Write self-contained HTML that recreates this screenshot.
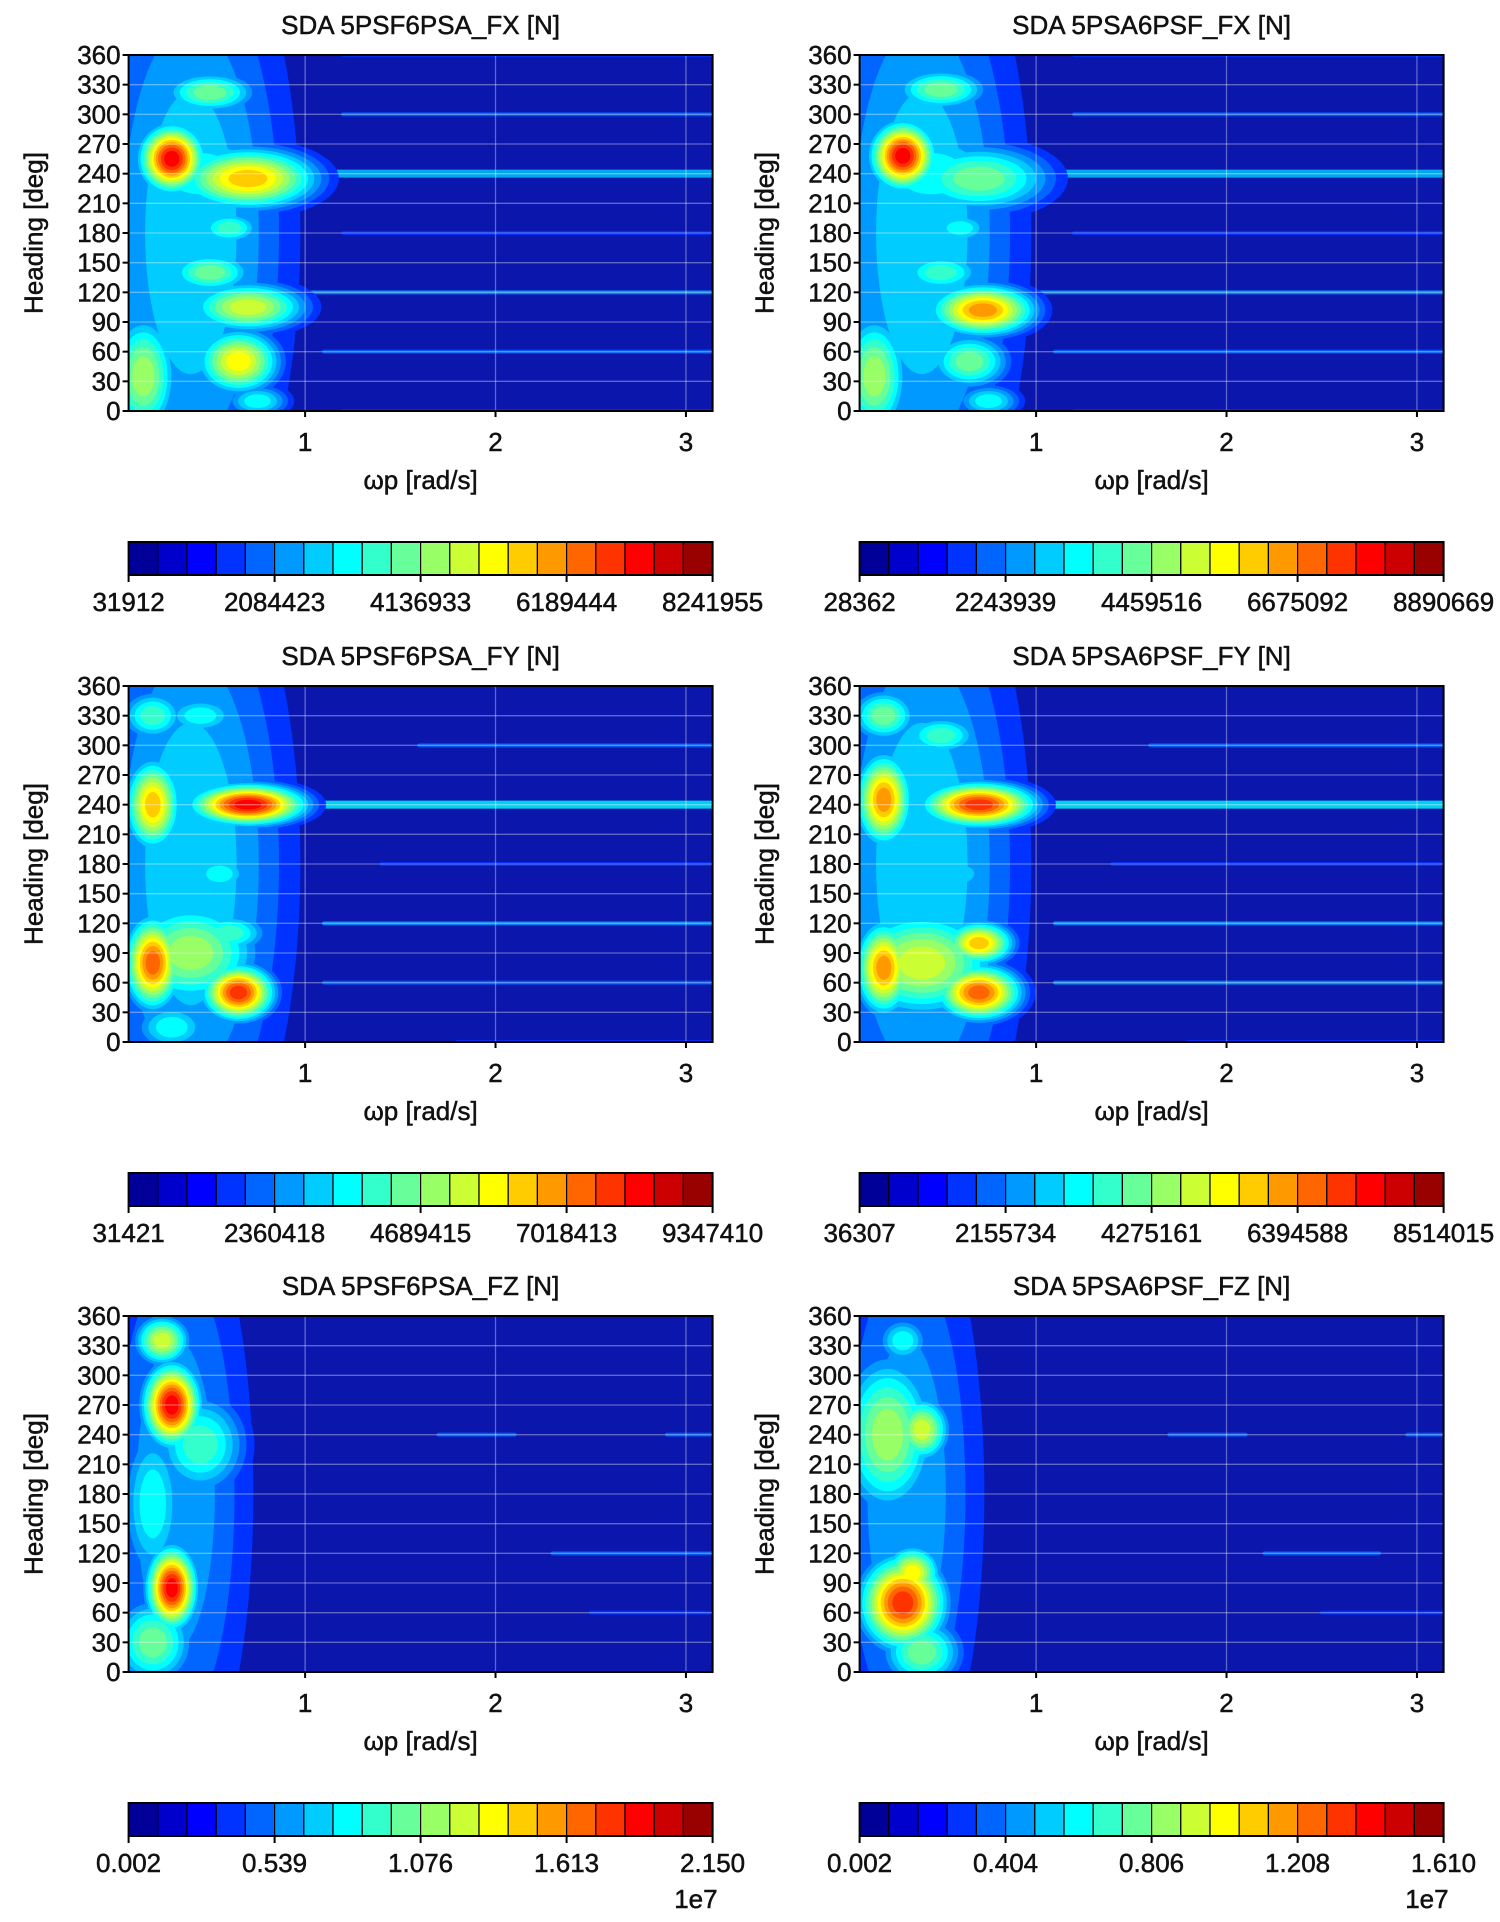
<!DOCTYPE html>
<html><head><meta charset="utf-8">
<style>
html,body{margin:0;padding:0;background:#fff;}
svg{display:block;font-family:"Liberation Sans",sans-serif;}
svg text{stroke:#111;stroke-width:0.5px;}
</style></head>
<body>
<svg id="fig" width="1500" height="1922" viewBox="0 0 1500 1922" xmlns="http://www.w3.org/2000/svg">
<rect width="1500" height="1922" fill="#fff"/>
</svg>
<script>
// ---- data ----
const titles = ["SDA 5PSF6PSA_FX [N]","SDA 5PSA6PSF_FX [N]","SDA 5PSF6PSA_FY [N]","SDA 5PSA6PSF_FY [N]","SDA 5PSF6PSA_FZ [N]","SDA 5PSA6PSF_FZ [N]"];
const xTicks = [1,2,3];
const yTicks = [0,30,60,90,120,150,180,210,240,270,300,330,360];
const cbLabels = [
 ["31912","2084423","4136933","6189444","8241955"],
 ["28362","2243939","4459516","6675092","8890669"],
 ["31421","2360418","4689415","7018413","9347410"],
 ["36307","2155734","4275161","6394588","8514015"],
 ["0.002","0.539","1.076","1.613","2.150"],
 ["0.002","0.404","0.806","1.208","1.610"]];
const cbExponent = ["","","","","1e7","1e7"];
// peaks per panel: omega [rad/s], heading [deg], level (0-19), spread omega, spread heading
const peakOmega = [
 [0.4,0.3,0.7,0.5,0.7,0.5,0.6,0.65,0.15,0.75,0.45],
 [0.4,0.3,0.7,0.5,0.72,0.5,0.6,0.65,0.15,0.75,0.45],
 [0.4,0.2,0.7,0.2,0.65,0.4,0.6,0.2,0.45,0.55,0.3],
 [0.4,0.2,0.7,0.2,0.7,0.7,0.4,0.2,0.5,0.6],
 [0.32,0.3,0.3,0.25,0.45,0.2,0.2],
 [0.32,0.3,0.35,0.22,0.4,0.3,0.4]];
const peakHeading = [
 [180,255,235,322,105,140,185,50,35,10,240],
 [180,258,235,325,102,140,185,50,35,10,240],
 [180,240,240,80,50,90,110,330,330,170,15],
 [180,245,240,75,50,100,80,330,310,170],
 [180,270,85,335,230,170,30],
 [180,70,100,240,245,335,20]];
const peakLevel = [
 [6,17,13,9,11,9,8,12,10,7,7],
 [6,17,9,9,14,8,7,9,10,7,7],
 [6,13,17,15,16,10,8,8,7,7,7],
 [6,14,16,14,15,13,11,9,8,6],
 [5,17,17,11,8,7,9],
 [5,16,12,10,11,7,9]];
const peakSpreadOmega = [
 [0.32,0.09,0.2,0.14,0.17,0.13,0.1,0.12,0.1,0.1,0.25],
 [0.32,0.09,0.22,0.14,0.15,0.13,0.1,0.12,0.1,0.1,0.25],
 [0.32,0.08,0.16,0.08,0.1,0.2,0.12,0.1,0.12,0.1,0.12],
 [0.32,0.08,0.16,0.08,0.12,0.1,0.22,0.1,0.12,0.1],
 [0.25,0.08,0.07,0.08,0.14,0.1,0.12],
 [0.25,0.12,0.08,0.14,0.08,0.08,0.12]];
const peakSpreadHeading = [
 [190,18,17,12,14,12,10,18,35,10,30],
 [190,18,20,12,14,12,10,16,35,10,30],
 [190,25,11,25,15,30,12,15,12,12,15],
 [190,25,12,25,15,12,30,15,12,12],
 [190,22,22,14,30,50,25],
 [190,25,15,45,18,14,20]];
// ridge lines along heading
const ridgeHeading = [
 [240,120,60,300,180,0,360],[240,120,60,300,180,0,360],
 [240,120,60,300,180,0],[240,120,60,300,180,0],
 [240,240,120,60],[240,240,120,60]];
const ridgeStart = [
 [0.9,0.9,1.1,1.2,1.2,1.2,1.2],[0.9,0.9,1.1,1.2,1.2,1.2,1.2],
 [0.9,1.1,1.1,1.6,1.4,1.8],[0.9,1.1,1.1,1.6,1.4,1.8],
 [1.7,2.9,2.3,2.5],[1.7,2.95,2.2,2.5]];
const ridgeEnd = [
 [3.14,3.14,3.14,3.14,3.14,3.14,3.14],[3.14,3.14,3.14,3.14,3.14,3.14,3.14],
 [3.14,3.14,3.14,3.14,3.14,3.14],[3.14,3.14,3.14,3.14,3.14,3.14],
 [2.1,3.14,3.14,3.14],[2.1,3.14,2.8,3.14]];
const ridgeLevel = [
 [6,5,4,4,3,3,3],[6,5,4,4,3,3,3],
 [7,5,4,4,3,3],[7,5,5,4,3,3],
 [4,4,4,3],[4,4,4,3]];

// ---- layout ----
const NS="http://www.w3.org/2000/svg";
const svg=document.getElementById('fig');
const colX=[128.6,859.6], rowY=[55,686,1316], PW=584, PH=356;
const XMIN=0.073, XMAX=3.14, SPREAD=1.3;
function mk(tag,attrs,parent){const e=document.createElementNS(NS,tag);for(const k in attrs)e.setAttribute(k,attrs[k]);(parent||svg).appendChild(e);return e;}
function jet(i){const t=(i+0.5)/20;const c=v=>Math.round(255*Math.max(0,Math.min(1,v)));
 return `rgb(${c(1.5-Math.abs(4*t-3))},${c(1.5-Math.abs(4*t-2))},${c(1.5-Math.abs(4*t-1))})`;}

for(let p=0;p<6;p++){
 const x0=colX[p%2], y0=rowY[Math.floor(p/2)];
 const sx=w=>x0+(w-XMIN)/(XMAX-XMIN)*PW;
 const sy=h=>y0+PH-h/360*PH;
 const g=mk('g',{});
 
 
 const t=mk('text',{x:x0+PW/2,y:y0-21,'text-anchor':'middle','font-size':26,fill:'#111'},g);
 t.textContent=titles[p];
 
 
 mk('clipPath',{id:'c'+p},g).appendChild(mk('rect',{x:x0,y:y0,width:PW,height:PH},g));
 const area=mk('g',{'clip-path':`url(#c${p})`},g);
 const bg=mk('rect',{x:x0,y:y0,width:PW,height:PH,fill:'rgb(10,22,172)'},area);
 
 
 for(let r=0;r<ridgeHeading[p].length;r++){
  const ln=mk('line',{x1:sx(ridgeStart[p][r]),x2:sx(ridgeEnd[p][r]),y1:sy(ridgeHeading[p][r]),y2:sy(ridgeHeading[p][r]),stroke:jet(ridgeLevel[p][r]),'stroke-opacity':0.8,'stroke-width':ridgeLevel[p][r]>5?8:4,'stroke-linecap':'round'},area);
  
  
 }
 const shapes=[];
 for(let k=0;k<peakOmega[p].length;k++){
  const L=peakLevel[p][k];
  for(let lev=3;lev<=L;lev++){
   const r=SPREAD*Math.sqrt(2*Math.log((L+0.5)/(lev-0.5)));
   shapes.push({lev,cx:sx(peakOmega[p][k]),cy:sy(peakHeading[p][k]),rx:r*peakSpreadOmega[p][k]/(XMAX-XMIN)*PW,ry:r*peakSpreadHeading[p][k]/360*PH});
  }
 }
 shapes.sort((a,b)=>a.lev-b.lev);
 for(const s of shapes){
  const e=mk('ellipse',{cx:s.cx,cy:s.cy,rx:s.rx,ry:s.ry,fill:jet(s.lev)},area);
  
  
 }
 for(const h of yTicks){mk('line',{x1:x0,x2:x0+PW,y1:sy(h),y2:sy(h),stroke:'#fff','stroke-opacity':0.35,'stroke-width':1.3},area);}
 for(const w of xTicks){mk('line',{x1:sx(w),x2:sx(w),y1:y0,y2:y0+PH,stroke:'#fff','stroke-opacity':0.35,'stroke-width':1.3},area);}
 mk('rect',{x:x0,y:y0,width:PW,height:PH,fill:'none',stroke:'#000','stroke-width':2},g);
 for(const h of yTicks){
  mk('line',{x1:x0-6,x2:x0,y1:sy(h),y2:sy(h),stroke:'#000','stroke-width':2},g);
  const tl=mk('text',{x:x0-8,y:sy(h)+9,'text-anchor':'end','font-size':26,fill:'#111'},g);
  tl.textContent=h;
  
  
 }
 for(const w of xTicks){
  mk('line',{x1:sx(w),x2:sx(w),y1:y0+PH,y2:y0+PH+6,stroke:'#000','stroke-width':2},g);
  const tl=mk('text',{x:sx(w),y:y0+PH+40,'text-anchor':'middle','font-size':26,fill:'#111'},g);
  tl.textContent=w;
  
  
 }
 const yl=mk('text',{x:0,y:0,'text-anchor':'middle','font-size':26,fill:'#111',transform:`translate(${x0-86},${y0+PH/2}) rotate(-90)`},g);
 yl.textContent='Heading [deg]';
 
 
 const xl=mk('text',{x:x0+PW/2,y:y0+PH+78,'text-anchor':'middle','font-size':26,fill:'#111'},g);
 xl.textContent='ωp [rad/s]';
 
 
 const cb=mk('g',{},g);
 
 
 const cy=y0+487, ch=33, bw=PW/20;
 for(let i=0;i<20;i++){
  const b=mk('rect',{x:x0+i*bw,y:cy,width:bw,height:ch,fill:jet(i),stroke:'#000','stroke-width':1.2},cb);
  
  
 }
 mk('rect',{x:x0,y:cy,width:PW,height:ch,fill:'none',stroke:'#000','stroke-width':2},cb);
 for(let j=0;j<5;j++){
  const xx=x0+j*PW/4;
  mk('line',{x1:xx,x2:xx,y1:cy+ch,y2:cy+ch+7,stroke:'#000','stroke-width':2},cb);
  const tl=mk('text',{x:xx,y:y0+556,'text-anchor':'middle','font-size':26,fill:'#111'},cb);
  tl.textContent=cbLabels[p][j];
  
  
 }
 if(cbExponent[p]){
  const ex=mk('text',{x:x0+PW+5,y:y0+592,'text-anchor':'end','font-size':26,fill:'#111'},cb);
  ex.textContent=cbExponent[p];
  
  
 }
}
</script>
</body></html>
